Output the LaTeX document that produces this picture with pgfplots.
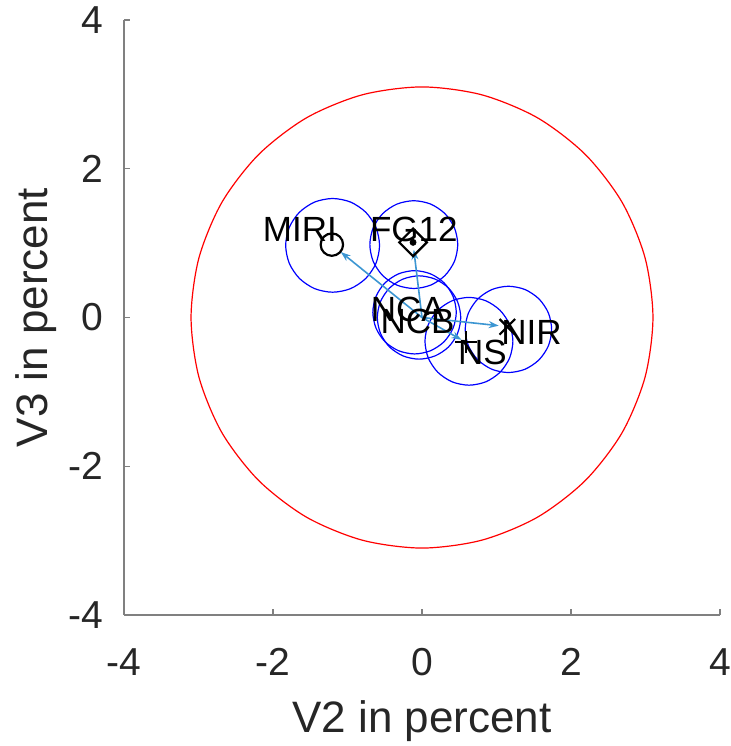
\documentclass[border=0pt]{standalone}
\usepackage{fontspec}
\setmainfont{Liberation Sans}
\usepackage{pgfplots}
\pgfplotsset{compat=1.18}
\usetikzlibrary{arrows.meta}
\definecolor{axgray}{rgb}{0.15,0.15,0.15}
\definecolor{arrowblue}{RGB}{60,150,210}
\begin{document}
\begin{tikzpicture}
\begin{axis}[
  scale only axis, width=298bp, height=297.5bp,
  xmin=-4, xmax=4, ymin=-4, ymax=4,
  xtick={-4,-2,0,2,4}, ytick={-4,-2,0,2,4},
  axis x line*=bottom, axis y line*=left,
  axis line style={black!50, line width=0.7bp, -},
  tick style={black!50, line width=0.7bp},
  tick align=inside, major tick length=3bp,
  /pgf/number format/assume math mode=true,
  ticklabel style={font=\fontsize{19.5bp}{22bp}\selectfont, text=axgray, inner sep=0pt},
  xticklabel style={anchor=north, yshift=-16.5bp},
  yticklabel style={anchor=east, xshift=-10bp},
  xlabel={V2 in percent}, ylabel={V3 in percent},
  label style={font=\fontsize{22bp}{26bp}\selectfont, text=axgray, inner sep=0pt},
  xlabel style={at={(axis description cs:0.5,-0.1983)}, anchor=base},
  ylabel style={at={(axis description cs:-0.1292,0.5)}, anchor=base, rotate=0},
  clip=false,
]
\coordinate (sw) at (rel axis cs:0,0);
\coordinate (ne) at (rel axis cs:1,1);
% red circle
\addplot[red, line width=0.6bp, smooth cycle, mark=none] coordinates {
(3.1,0) (2.994,0.802) (2.685,1.55) (2.192,2.192) (1.55,2.685) (0.802,2.994)
(0,3.1) (-0.802,2.994) (-1.55,2.685) (-2.192,2.192) (-2.685,1.55) (-2.994,0.802)
(-3.1,0) (-2.994,-0.802) (-2.685,-1.55) (-2.192,-2.192) (-1.55,-2.685) (-0.802,-2.994)
(0,-3.1) (0.802,-2.994) (1.55,-2.685) (2.192,-2.192) (2.685,-1.55) (2.994,-0.802)
};
% blue circles
\addplot[blue, line width=0.6bp, smooth cycle, mark=none] coordinates {
(-0.570,0.970) (-0.618,1.211) (-0.755,1.415) (-0.959,1.552) (-1.200,1.600) (-1.441,1.552)
(-1.645,1.415) (-1.782,1.211) (-1.830,0.970) (-1.782,0.729) (-1.645,0.525) (-1.441,0.388)
(-1.200,0.340) (-0.959,0.388) (-0.755,0.525) (-0.618,0.729)
};
\addplot[blue, line width=0.6bp, smooth cycle, mark=none] coordinates {
(0.480,0.980) (0.435,1.206) (0.307,1.397) (0.116,1.525) (-0.110,1.570) (-0.336,1.525)
(-0.527,1.397) (-0.655,1.206) (-0.700,0.980) (-0.655,0.754) (-0.527,0.563) (-0.336,0.435)
(-0.110,0.390) (0.116,0.435) (0.307,0.563) (0.435,0.754)
};
\addplot[blue, line width=0.6bp, smooth cycle, mark=none] coordinates {
(0.460,0.070) (0.417,0.284) (0.296,0.466) (0.114,0.587) (-0.100,0.630) (-0.314,0.587)
(-0.496,0.466) (-0.617,0.284) (-0.660,0.070) (-0.617,-0.144) (-0.496,-0.326) (-0.314,-0.447)
(-0.100,-0.490) (0.114,-0.447) (0.296,-0.326) (0.417,-0.144)
};
\addplot[blue, line width=0.6bp, smooth cycle, mark=none] coordinates {
(0.520,0) (0.477,0.214) (0.356,0.396) (0.174,0.517) (-0.040,0.560) (-0.254,0.517)
(-0.436,0.396) (-0.557,0.214) (-0.600,0) (-0.557,-0.214) (-0.436,-0.396) (-0.254,-0.517)
(-0.040,-0.560) (0.174,-0.517) (0.356,-0.396) (0.477,-0.214)
};
\addplot[blue, line width=0.6bp, smooth cycle, mark=none] coordinates {
(1.740,-0.160) (1.696,0.062) (1.570,0.250) (1.382,0.376) (1.160,0.420) (0.938,0.376)
(0.750,0.250) (0.624,0.062) (0.580,-0.160) (0.624,-0.382) (0.750,-0.570) (0.938,-0.696)
(1.160,-0.740) (1.382,-0.696) (1.570,-0.570) (1.696,-0.382)
};
\addplot[blue, line width=0.6bp, smooth cycle, mark=none] coordinates {
(1.220,-0.320) (1.175,-0.094) (1.047,0.097) (0.856,0.225) (0.630,0.270) (0.404,0.225)
(0.213,0.097) (0.085,-0.094) (0.040,-0.320) (0.085,-0.546) (0.213,-0.737) (0.404,-0.865)
(0.630,-0.910) (0.856,-0.865) (1.047,-0.737) (1.175,-0.546)
};
% arrows
\addplot[arrowblue, line width=0.8bp, -{Stealth[length=5bp,width=3.5bp]},
  quiver={u=\thisrow{u}, v=\thisrow{v}}] table {
x y u v
0 0 -1.09 0.88
0 0 -0.11 0.91
0 0 1.03 -0.11
0 0 0.53 -0.30
};
% markers
\addplot[only marks, mark=o, mark size=5.6bp, line width=1.1bp, black] coordinates {(-1.21,0.98)};
\addplot[only marks, mark=square, mark options={rotate=45}, mark size=4.9bp, line width=1.1bp, black] coordinates {(-0.12,1.01)};
\addplot[only marks, mark=*, mark size=1.5bp, black] coordinates {(-0.12,1.01)};
\addplot[only marks, mark=x, mark size=5.5bp, line width=1.1bp, black] coordinates {(1.145,-0.125)};
\addplot[only marks, mark=+, mark size=5.5bp, line width=1.1bp, black] coordinates {(0.59,-0.33)};
% labels
\addplot[only marks, mark=none, nodes near coords, point meta=explicit symbolic,
  every node near coord/.append style={anchor=center, font=\fontsize{17.5bp}{20bp}\selectfont, text=black, inner sep=0pt}]
  table[meta=label] {
x y label
-1.64 1.18 MIRI
-0.11 1.18 FG12
-0.19 0.11 NCA
-0.06 -0.05 NCB
1.47 -0.20 NIR
0.81 -0.47 NS
};
\end{axis}
\pgfresetboundingbox
\path[use as bounding box] ([shift={(-62bp,-65.5bp)}]sw) rectangle ([shift={(5.5bp,10bp)}]ne);
\end{tikzpicture}
\end{document}
